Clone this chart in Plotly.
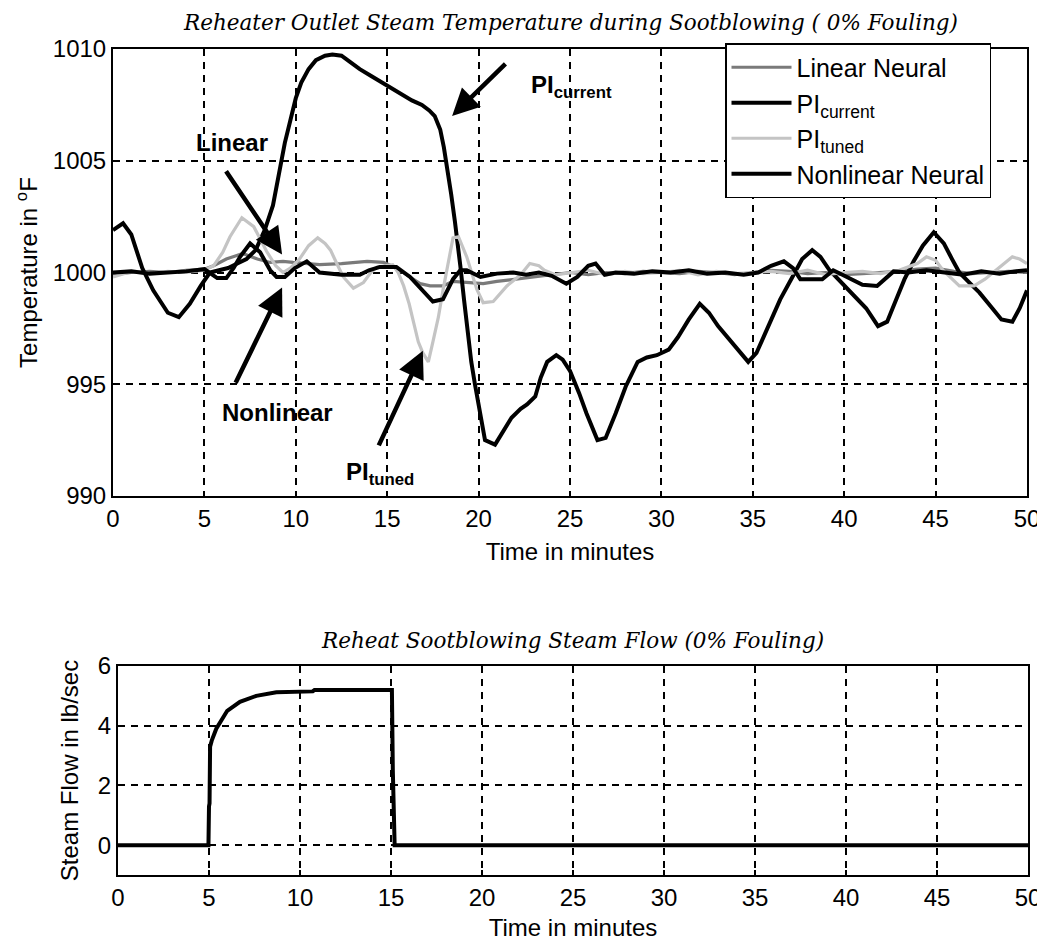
import plotly.graph_objects as go

# ---------------- data ----------------
t_pi_current = [0.0, 0.55, 1.0, 1.6, 2.2, 3.0, 3.6, 4.2, 4.8, 5.3, 5.8, 6.3, 6.8, 7.3, 7.8, 8.3, 8.75, 9.1, 9.4, 9.7,
                10.0, 10.3, 10.7, 11.1, 11.6, 12.0, 12.5, 13.0, 13.5, 14.1, 14.6, 15.1, 15.7, 16.35, 16.9, 17.3, 17.6,
                17.9, 18.1, 18.3, 18.5, 18.7, 18.85, 19.0, 19.2, 19.4, 19.6, 19.8, 20.1, 20.35, 20.9, 21.3, 21.8, 22.3,
                22.65, 23.1, 23.4, 23.75, 24.25, 24.6, 25.0, 25.5, 25.9, 26.5, 26.95, 27.5, 28.05, 28.7, 29.2, 29.75,
                30.4, 30.9, 31.5, 32.1, 32.6, 33.1, 33.5, 34.1, 34.75, 35.2, 35.85, 36.5, 37.1, 37.7, 38.25, 38.7,
                39.2, 39.8, 40.5, 41.2, 41.85, 42.35, 42.8, 43.3, 43.8, 44.3, 44.9, 45.45, 45.9, 46.3, 46.9, 47.4,
                48.0, 48.6, 49.2, 49.6, 50.0]
pi_current = [1001.9, 1002.2, 1001.7, 1000.2, 999.2, 998.2, 998.0, 998.6, 999.4, 1000.0, 1000.1, 1000.2, 1000.4,
              1000.6, 1001.0, 1001.9, 1003.0, 1004.6, 1005.8, 1006.8, 1007.8, 1008.5, 1009.1, 1009.5, 1009.7,
              1009.75, 1009.7, 1009.4, 1009.1, 1008.8, 1008.55, 1008.3, 1008.0, 1007.7, 1007.5, 1007.25, 1007.0,
              1006.4, 1005.6, 1004.6, 1003.5, 1002.3, 1001.4, 1000.3, 998.8, 997.4, 996.0, 995.0, 993.5, 992.5,
              992.3, 992.8, 993.5, 993.9, 994.1, 994.45, 995.3, 996.0, 996.3, 996.1, 995.6, 994.6, 993.7, 992.5,
              992.6, 993.7, 994.9, 996.0, 996.2, 996.3, 996.55, 997.1, 997.9, 998.6, 998.2, 997.6, 997.2, 996.6,
              996.0, 996.4, 997.6, 998.8, 999.7, 1000.6, 1001.0, 1000.7, 1000.1, 999.6, 999.0, 998.4, 997.6,
              997.8, 998.7, 999.7, 1000.5, 1001.2, 1001.8, 1001.3, 1000.6, 1000.0, 999.5, 999.1, 998.5, 997.9,
              997.8, 998.4, 999.2]

t_nonlinear = [0, 1, 2, 3, 4, 5, 5.4, 5.7, 6.2, 6.6, 6.95, 7.5, 8.05, 8.6, 8.95, 9.4, 9.95, 10.6, 11.3, 12.5, 13.5,
               14.0, 14.6, 15.5, 16.25, 17.0, 17.5, 18.05, 18.6, 19.0, 19.35, 20.1, 21.0, 21.9, 22.6, 23.3, 24.0,
               24.8, 25.4, 26.0, 26.4, 26.9, 27.5, 28.5, 29.5, 30.5, 31.5, 32.5, 33.5, 34.5, 35.3, 36.0, 36.7, 37.2,
               37.6, 38.8, 39.4, 39.9, 40.4, 41.0, 41.8, 42.7, 43.5, 44.5, 45.5, 46.5, 47.5, 48.5, 49.3, 50]
nonlinear = [1000.0, 1000.05, 999.95, 1000.0, 1000.05, 1000.15, 999.9, 999.75, 999.75, 1000.2, 1000.7, 1001.3,
             1000.9, 1000.1, 999.8, 999.8, 1000.2, 1000.5, 1000.0, 999.9, 999.9, 1000.1, 1000.25, 1000.25, 999.8,
             999.15, 998.7, 998.8, 999.7, 1000.1, 1000.1, 999.8, 999.95, 1000.0, 999.9, 1000.0, 999.85, 999.5,
             999.8, 1000.3, 1000.4, 999.9, 1000.0, 999.95, 1000.05, 1000.0, 1000.1, 999.95, 1000.0, 999.9, 1000.0,
             1000.3, 1000.5, 1000.2, 999.7, 999.7, 1000.1, 999.9, 999.7, 999.45, 999.4, 1000.05, 1000.0, 1000.1,
             1000.0, 999.9, 1000.05, 999.95, 1000.05, 1000.1]

t_linear = [0, 1, 2, 3, 4, 5, 5.5, 6.2, 7.1, 7.9, 8.6, 9.3, 9.85, 10.5, 11.3, 12.5, 13.9, 14.8, 15.5, 16.25, 16.8,
            17.35, 18.05, 18.6, 19.3, 20.25, 21.0, 21.9, 23, 24, 25, 26, 27, 28, 29, 30, 31, 32, 33, 34, 35, 36, 37,
            38, 39, 40, 41, 42, 43, 44, 45, 46, 47, 48, 49, 50]
linear = [999.9, 1000.0, 1000.05, 1000.0, 1000.1, 1000.15, 1000.3, 1000.6, 1000.85, 1000.6, 1000.45, 1000.5,
          1000.45, 1000.4, 1000.35, 1000.4, 1000.5, 1000.45, 1000.2, 999.8, 999.5, 999.4, 999.4, 999.6, 999.55,
          999.5, 999.6, 999.7, 999.8, 999.9, 1000.0, 999.9, 1000.0, 999.95, 1000.05, 1000.0, 999.95, 1000.05,
          1000.0, 999.9, 1000.0, 1000.1, 1000.05, 999.95, 1000.0, 999.9, 999.95, 1000.0, 1000.05, 1000.15, 1000.2,
          1000.05, 999.95, 1000.0, 1000.05, 1000.0]

t_pi_tuned = [0, 1, 2, 3, 4, 5, 5.5, 6.0, 6.4, 7.05, 7.7, 8.4, 8.9, 9.3, 9.7, 10.2, 10.7, 11.2, 11.6, 11.9, 12.3,
              12.6, 13.15, 13.7, 14.1, 14.45, 15.3, 15.6, 15.9, 16.2, 16.45, 16.7, 16.95, 17.25, 17.5, 17.8, 18.05,
              18.35, 18.6, 18.9, 19.35, 19.9, 20.25, 20.8, 21.55, 22.3, 22.8, 23.3, 23.6, 24.2, 25, 26, 27, 28, 29,
              30, 31, 32, 33, 34, 35, 36, 37, 38, 39, 40, 41, 42, 43, 44, 44.5, 45.0, 45.4, 46.3, 47.1, 47.7, 48.3,
              49.2, 49.6, 50]
pi_tuned = [999.8, 1000.05, 999.95, 1000.05, 1000.0, 1000.1, 1000.3, 1000.9, 1001.6, 1002.45, 1002.05, 1000.95,
            1000.3, 1000.0, 1000.2, 1000.6, 1001.2, 1001.55, 1001.3, 1001.0, 1000.3, 999.8, 999.3, 999.55, 1000.0,
            1000.25, 1000.35, 1000.0, 999.4, 998.6, 997.75, 996.9, 996.4, 996.0, 996.9, 998.0, 999.2, 1000.5,
            1001.55, 1001.6, 1000.7, 999.25, 998.65, 998.7, 999.4, 999.9, 1000.4, 1000.3, 1000.1, 999.9, 1000.0,
            1000.1, 999.9, 1000.05, 999.95, 1000.0, 1000.1, 999.9, 1000.05, 999.95, 1000.0, 1000.05, 999.95,
            1000.1, 999.9, 1000.0, 1000.05, 999.95, 1000.1, 1000.4, 1000.7, 1000.55, 1000.1, 999.4, 999.4, 999.7,
            1000.1, 1000.7, 1000.6, 1000.4]

t_flow = [0, 4.97, 5.0, 5.03, 5.06, 5.15, 5.4, 6.0, 6.7, 7.6, 8.7, 10.7, 10.8, 15.05, 15.1, 15.15, 15.2, 50]
flow = [0, 0, 1.3, 1.4, 3.3, 3.5, 3.9, 4.5, 4.8, 5.0, 5.12, 5.15, 5.2, 5.2, 2.5, 0.3, 0, 0]

x_ticks = [0, 5, 10, 15, 20, 25, 30, 35, 40, 45, 50]
temp_ticks = [990, 995, 1000, 1005, 1010]
flow_ticks = [0, 2, 4, 6]

title_top = "Reheater Outlet Steam Temperature during Sootblowing ( 0% Fouling)"
title_bottom = "Reheat Sootblowing Steam Flow (0% Fouling)"

# ---------------- figure ----------------
SANS = "Liberation Sans, Arial, sans-serif"
SERIF = "DejaVu Serif, serif"

fig = go.Figure()
fig.add_trace(go.Scatter(x=t_linear, y=linear, mode="lines", name="Linear Neural",
                         line=dict(color="#7a7a7a", width=3.2), xaxis="x", yaxis="y"))
fig.add_trace(go.Scatter(x=t_pi_current, y=pi_current, mode="lines", name="PI<sub>current</sub>",
                         line=dict(color="black", width=4), xaxis="x", yaxis="y"))
fig.add_trace(go.Scatter(x=t_pi_tuned, y=pi_tuned, mode="lines", name="PI<sub>tuned</sub>",
                         line=dict(color="#c4c4c4", width=3.2), xaxis="x", yaxis="y"))
fig.add_trace(go.Scatter(x=t_nonlinear, y=nonlinear, mode="lines", name="Nonlinear Neural",
                         line=dict(color="black", width=4), xaxis="x", yaxis="y"))
fig.add_trace(go.Scatter(x=t_flow, y=flow, mode="lines", showlegend=False,
                         line=dict(color="black", width=4), xaxis="x2", yaxis="y2"))

W, H = 1037, 944
axis_common = dict(showline=True, mirror=True, linecolor="black", linewidth=2,
                   showgrid=True, gridcolor="black", gridwidth=1.5, griddash="7px,6px",
                   ticks="inside", ticklen=5, tickcolor="black", tickwidth=1.5,
                   zeroline=False, automargin=False, ticklabeloverflow="allow",
                   tickfont=dict(family=SANS, size=24, color="black"))
title_font = dict(family=SANS, size=24, color="black")

fig.update_layout(
    width=W, height=H, margin=dict(l=0, r=0, t=0, b=0, autoexpand=False),
    paper_bgcolor="white", plot_bgcolor="white",
    showlegend=True,
    xaxis=dict(domain=[113 / W, 1027 / W], range=[0, 50], tickvals=x_ticks, anchor="y",
               title=dict(text="Time in minutes", font=title_font, standoff=12), **axis_common),
    yaxis=dict(domain=[1 - 496 / H, 1 - 49 / H], range=[990, 1010], tickvals=temp_ticks, anchor="x",
               title=dict(text="Temperature in <sup>o</sup>F", font=title_font, standoff=8), **axis_common),
    xaxis2=dict(domain=[118 / W, 1028 / W], range=[0, 50], tickvals=x_ticks, anchor="y2",
                title=dict(text="Time in minutes", font=title_font, standoff=9), **axis_common),
    yaxis2=dict(domain=[1 - 875 / H, 1 - 666 / H], range=[-1, 6], tickvals=flow_ticks, anchor="x2",
                title=dict(text="Steam Flow in lb/sec", font=title_font, standoff=12), **axis_common),
    legend=dict(x=725 / W, y=1 - 43 / H, xanchor="left", yanchor="top",
                bgcolor="white", bordercolor="black", borderwidth=1.5, itemwidth=60,
                font=dict(family=SANS, size=25, color="black"), tracegroupgap=0),
)

annotations = [
    dict(text=title_top, x=570 / W, y=1 - 22 / H, xref="paper", yref="paper", showarrow=False,
         xanchor="center", yanchor="middle", font=dict(family=SERIF, size=21.5, color="black", style="italic")),
    dict(text=title_bottom, x=572 / W, y=1 - 640 / H, xref="paper", yref="paper", showarrow=False,
         xanchor="center", yanchor="middle", font=dict(family=SERIF, size=21.5, color="black", style="italic")),
]

label_font = dict(family=SANS, size=24, color="black", weight="bold")
annotations += [
    dict(text="Linear", x=6.5, y=1005.8, xref="x", yref="y", showarrow=False, font=label_font),
    dict(text="Nonlinear", x=9.0, y=993.75, xref="x", yref="y", showarrow=False, font=label_font),
    dict(text="PI<sub>tuned</sub>", x=14.6, y=991.0, xref="x", yref="y", showarrow=False, font=label_font),
    dict(text="PI<sub>current</sub>", x=25.1, y=1008.3, xref="x", yref="y", showarrow=False, font=label_font),
]
arrows = [
    ((6.13, 1004.6), (9.25, 1000.8)),
    ((6.67, 995.0), (9.25, 999.33)),
    ((14.5, 992.2), (16.95, 996.5)),
    ((21.55, 1009.4), (18.55, 1007.0)),
]
for (tx, ty), (hx, hy) in arrows:
    annotations.append(dict(text="", x=hx, y=hy, ax=tx, ay=ty, xref="x", yref="y", axref="x", ayref="y",
                            showarrow=True, arrowhead=2, arrowsize=1.2, arrowwidth=4.5, arrowcolor="black",
                            standoff=0, startstandoff=0))
fig.update_layout(annotations=annotations)

fig.write_html("out.html")
